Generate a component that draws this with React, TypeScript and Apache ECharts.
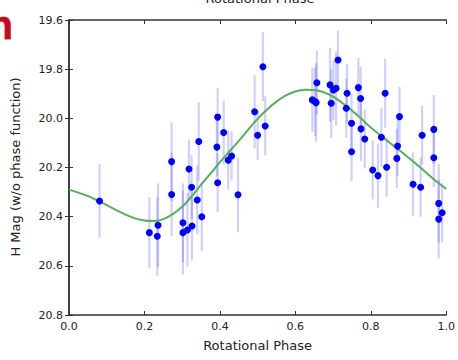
import React, { useEffect, useRef } from "react";
import * as echarts from "echarts";

const phase = [
  0.081, 0.213, 0.236, 0.234, 0.272, 0.272, 0.302, 0.302, 0.314, 0.318,
  0.325, 0.326, 0.34, 0.344, 0.352, 0.392, 0.394, 0.394, 0.41, 0.422,
  0.431, 0.448, 0.492, 0.5, 0.514, 0.52, 0.645, 0.652, 0.655, 0.657,
  0.692, 0.695, 0.701, 0.708, 0.713, 0.735, 0.737, 0.749, 0.749, 0.767,
  0.773, 0.774, 0.784, 0.805, 0.819, 0.828, 0.838, 0.842, 0.869, 0.871,
  0.876, 0.912, 0.932, 0.936, 0.967, 0.967, 0.98, 0.989, 0.98,
];
const hMag = [
  20.336, 20.465, 20.435, 20.48, 20.176, 20.31, 20.425, 20.465, 20.454, 20.206,
  20.28, 20.438, 20.332, 20.094, 20.4, 20.117, 19.995, 20.262, 20.058, 20.17,
  20.153, 20.311, 19.973, 20.069, 19.79, 20.031, 19.925, 19.932, 19.936, 19.855,
  19.864, 19.939, 19.885, 19.878, 19.763, 19.959, 19.898, 20.02, 20.136, 19.875,
  19.919, 20.043, 20.084, 20.21, 20.233, 20.077, 19.898, 20.199, 20.163, 20.113,
  19.993, 20.268, 20.28, 20.069, 20.045, 20.16, 20.346, 20.384, 20.41,
];
const hErr = [
  0.15, 0.145, 0.17, 0.16, 0.16, 0.17, 0.16, 0.17, 0.15, 0.12,
  0.13, 0.14, 0.14, 0.16, 0.14, 0.12, 0.12, 0.12, 0.13, 0.12,
  0.1, 0.15, 0.15, 0.1, 0.14, 0.12, 0.13, 0.14, 0.16, 0.13,
  0.15, 0.14, 0.12, 0.15, 0.12, 0.12, 0.12, 0.12, 0.12, 0.12,
  0.13, 0.13, 0.12, 0.12, 0.13, 0.12, 0.14, 0.12, 0.12, 0.12,
  0.12, 0.13, 0.12, 0.12, 0.14, 0.12, 0.16, 0.12, 0.16,
];

const curvePhase = [
  0, 0.025, 0.05, 0.075, 0.1, 0.125, 0.15, 0.175, 0.2, 0.225,
  0.25, 0.275, 0.3, 0.325, 0.35, 0.375, 0.4, 0.425, 0.45, 0.475,
  0.5, 0.525, 0.55, 0.575, 0.6, 0.625, 0.65, 0.675, 0.7, 0.725,
  0.75, 0.775, 0.8, 0.825, 0.85, 0.875, 0.9, 0.925, 0.95, 0.975, 1.0,
];
const curveMag = [
  20.29, 20.302, 20.316, 20.334, 20.353, 20.373, 20.392, 20.407, 20.416, 20.418,
  20.41, 20.39, 20.36, 20.318, 20.27, 20.225, 20.178, 20.135, 20.092, 20.046,
  20.002, 19.964, 19.932, 19.907, 19.891, 19.884, 19.885, 19.894, 19.912, 19.938,
  19.968, 20.002, 20.037, 20.068, 20.099, 20.129, 20.16, 20.192, 20.225, 20.258, 20.287,
];

const xTicks = { min: 0, max: 1, interval: 0.2 };
const yTicks = { min: 19.6, max: 20.8, interval: 0.2 };

const FONT = "DejaVu Sans";
const FRAME = "#333333";

export default function App() {
  const ref = useRef<HTMLDivElement>(null);
  useEffect(() => {
    if (!ref.current) return;
    const chart = echarts.init(ref.current, null, { renderer: "svg" });
    const errData = phase.map((p, i) => [p, hMag[i] - hErr[i], hMag[i] + hErr[i]]);
    const ptData = phase.map((p, i) => [p, hMag[i]]);
    const curveData = curvePhase.map((p, i) => [p, curveMag[i]]);
    const axisLine = { show: true, lineStyle: { color: FRAME, width: 1.5 } };
    const axisTick = { show: true, inside: true, length: 4, lineStyle: { color: FRAME, width: 1 } };
    chart.setOption({
      animation: false,
      backgroundColor: "#ffffff",
      grid: { left: 69, right: 6, top: 20, bottom: 45, containLabel: false },
      xAxis: [
        {
          type: "value",
          ...xTicks,
          position: "bottom",
          axisLine,
          axisTick,
          splitLine: { show: false },
          axisLabel: {
            color: "#222",
            fontFamily: FONT,
            fontSize: 11,
            margin: 6,
            formatter: (v: number) => v.toFixed(1),
          },
          name: "Rotational Phase",
          nameLocation: "middle",
          nameGap: 24,
          nameTextStyle: { color: "#222", fontFamily: FONT, fontSize: 13 },
        },
        {
          type: "value",
          ...xTicks,
          position: "top",
          axisLine,
          axisTick,
          splitLine: { show: false },
          axisLabel: { show: false },
        },
      ],
      yAxis: [
        {
          type: "value",
          ...yTicks,
          inverse: true,
          position: "left",
          axisLine,
          axisTick,
          splitLine: { show: false },
          axisLabel: {
            color: "#222",
            fontFamily: FONT,
            fontSize: 11,
            margin: 6,
            formatter: (v: number) => v.toFixed(1),
          },
        },
        {
          type: "value",
          ...yTicks,
          inverse: true,
          position: "right",
          axisLine,
          axisTick,
          splitLine: { show: false },
          axisLabel: { show: false },
        },
      ],
      graphic: [
        {
          type: "text",
          x: 15,
          y: 167,
          rotation: Math.PI / 2,
          style: {
            text: "H Mag (w/o phase function)",
            fill: "#222",
            font: `13px '${FONT}'`,
            textAlign: "center",
            textVerticalAlign: "middle",
          },
        },
        {
          type: "text",
          x: 260,
          y: 5,
          style: {
            text: "Rotational Phase",
            fill: "#222",
            font: `13px '${FONT}'`,
            textAlign: "center",
            textVerticalAlign: "bottom",
          },
        },
        {
          type: "text",
          x: 13,
          y: 45,
          style: {
            text: "n",
            fill: "#c20a22",
            stroke: "#d9481a",
            lineWidth: 0.8,
            font: `bold 40px 'Liberation Sans'`,
            textAlign: "right",
            textVerticalAlign: "bottom",
          },
        },
      ],
      series: [
        {
          type: "custom",
          xAxisIndex: 0,
          yAxisIndex: 0,
          data: errData,
          z: 1,
          renderItem: (params: any, api: any) => {
            const a = api.coord([api.value(0), api.value(1)]);
            const b = api.coord([api.value(0), api.value(2)]);
            return {
              type: "line",
              shape: { x1: a[0], y1: a[1], x2: b[0], y2: b[1] },
              style: { stroke: "rgba(40,40,255,0.22)", lineWidth: 2.2 },
            };
          },
        },
        {
          type: "line",
          xAxisIndex: 0,
          yAxisIndex: 0,
          data: curveData,
          smooth: 0.3,
          showSymbol: false,
          symbol: "none",
          lineStyle: { color: "#5aae5a", width: 2 },
          z: 2,
        },
        {
          type: "scatter",
          xAxisIndex: 0,
          yAxisIndex: 0,
          data: ptData,
          symbol: "circle",
          symbolSize: 7,
          itemStyle: { color: "#0000ff", opacity: 1 },
          z: 3,
        },
      ],
    });
    return () => chart.dispose();
  }, []);
  return (
    <div
      ref={ref}
      style={{ position: "fixed", left: 0, top: 0, width: 458, height: 360 }}
    />
  );
}
